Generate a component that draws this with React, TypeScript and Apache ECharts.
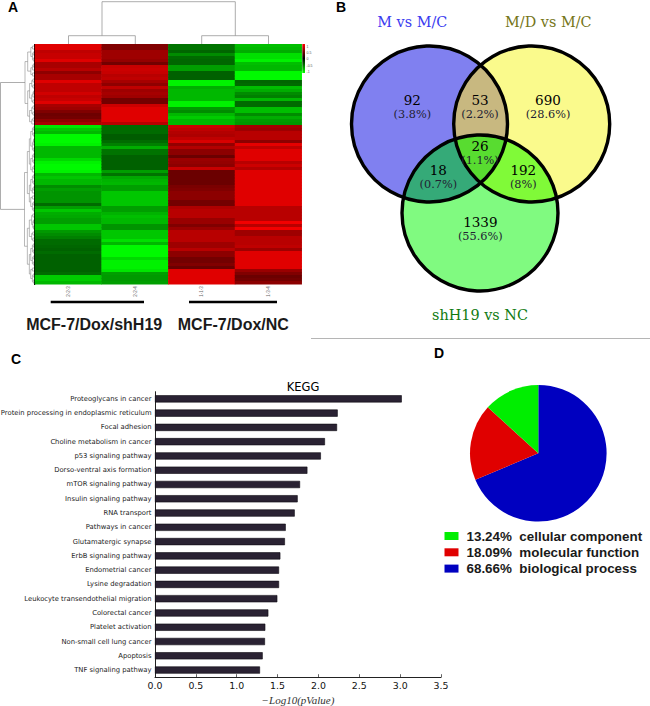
import React, { useEffect, useRef } from "react";
import * as echarts from "echarts";

const sampleLabels = ["2-2-3", "2-2-4", "1-1-3", "1-3-4"];
const col1 = [
  .88,.88,.75,.78,.78,.88,.66,.66,.72,.56,.66,.66,.88,.75,.75,.75,.82,.75,.78,.88,.66,.62,.5,.43,.45,.56,.66,
  -.9,-.78,-.72,-.98,-.98,-.98,-.95,-.72,-.72,-.72,-.72,-.85,-.95,-.98,-.98,-.95,-.72,-.78,-.72,-.72,-.55,-.62,-.58,-.58,-.58,-.58,-.42,
  -.62,-.78,-.68,-.66,-.62,-.62,-.78,-.78,-.6,-.55,-.5,-.42,-.42,-.4,-.38,-.42,-.38,-.38,-.38,-.38,-.38,-.38,-.42,-.8,-.8,-.72,
];
const col2 = [
  .5,.5,.62,.62,.62,.58,.45,.78,.8,.78,.72,.75,.65,.56,.75,.62,.65,.62,.45,.45,.8,.88,.88,.88,.88,.88,.72,
  -.42,-.42,-.42,-.36,-.36,-.42,-.5,-.68,-.45,-.45,-.38,-.38,-.38,-.38,-.38,-.62,-.45,-.66,-.7,-.72,-.62,-.62,-.78,-.78,-.78,-.78,-.78,
  -.62,-.62,-.7,-.75,-.72,-.72,-.58,-.58,-.78,-.78,-.78,-.88,-.72,-.98,-.98,-.98,-.98,-.85,-.95,-.95,-.95,-.9,-.62,-.6,-.6,-.62,
];
const col3 = [
  -.45,-.45,-.4,-.55,-.42,-.4,-.4,-.62,-.62,-.38,-.38,-.38,-.95,-.95,-.68,-.72,-.72,-.72,-.72,-.95,-.95,-.6,-.55,-.72,-.8,-.72,-.72,
  .8,.75,.7,.68,.75,.85,.58,.7,.55,.55,.42,.6,.58,.55,.78,.42,.42,.42,.42,.42,.48,.5,.55,.55,.55,.45,.45,
  .68,.72,.72,.72,.6,.6,.5,.6,.72,.72,.72,.72,.62,.62,.72,.55,.55,.45,.45,.5,.42,.88,.88,.88,.88,.88,
];
const col4 = [
  -.75,-.72,-.68,-.88,-.88,-.95,-.75,-.72,-.72,-.98,-.98,-.98,-.4,-.42,-.75,-.68,-.55,-.5,-.72,-.42,-.42,-.75,-.75,-.55,-.68,-.62,-.6,
  .65,.62,.72,.72,.72,.55,.9,.75,.88,.88,.88,.88,.72,.8,.7,.88,.88,.88,.88,.88,.88,.88,.88,.88,.88,.88,.88,
  .72,.72,.72,.72,.72,.95,.72,.95,.62,.62,.72,.72,.72,.75,.62,.88,.88,.88,.88,.88,.88,.6,.5,.42,.45,.55,
];
const heatColumns = [col1, col2, col3, col4];

const keggTerms = [
  "Proteoglycans in cancer",
  "Protein processing in endoplasmic reticulum",
  "Focal adhesion",
  "Choline metabolism in cancer",
  "p53 signaling pathway",
  "Dorso-ventral axis formation",
  "mTOR signaling pathway",
  "Insulin signaling pathway",
  "RNA transport",
  "Pathways in cancer",
  "Glutamatergic synapse",
  "ErbB signaling pathway",
  "Endometrial cancer",
  "Lysine degradation",
  "Leukocyte transendothelial migration",
  "Colorectal cancer",
  "Platelet activation",
  "Non-small cell lung cancer",
  "Apoptosis",
  "TNF signaling pathway",
];
const keggValues = [3.02,2.236,2.228,2.08,2.03,1.865,1.775,1.746,1.71,1.6,1.59,1.534,1.518,1.518,1.497,1.387,1.35,1.346,1.318,1.285];

const pieNames = ["biological process", "molecular function", "cellular component"];
const pieValues = [68.66, 18.09, 13.24];
const pieColors = ["#0000c0", "#e00000", "#00ee00"];
const legendOrder = ["cellular component", "molecular function", "biological process"];

const vennLabels: [string, string, number, number][] = [
  ["92", "3.8%", 412.3, 107.7],
  ["53", "2.2%", 480, 107.7],
  ["690", "28.6%", 548, 107.7],
  ["26", "1.1%", 480, 153.2],
  ["18", "0.7%", 438.3, 177.2],
  ["192", "8%", 523.3, 177.2],
  ["1339", "55.6%", 480.3, 229.3],
];

const vA = { x: 429.5, y: 124 };
const vB = { x: 531.7, y: 124 };
const vC = { x: 480, y: 213 };
const vR = 78;

function meet(p: any, q: any, side: number) {
  const mx = (p.x + q.x) / 2, my = (p.y + q.y) / 2;
  const dx = q.x - p.x, dy = q.y - p.y, d = Math.hypot(dx, dy);
  const h = Math.sqrt(vR * vR - (d * d) / 4);
  return { x: mx - (side * h * dy) / d, y: my + (side * h * dx) / d };
}
const arc = (p: any) => `A ${vR} ${vR} 0 0 1 ${p.x} ${p.y}`;
function lens(p: any, q: any) {
  const a = meet(p, q, 1), b = meet(p, q, -1);
  return `M ${a.x} ${a.y} ${arc(b)} ${arc(a)} Z`;
}
const abIn = meet(vA, vB, 1); // lower crossing of A and B
const pick = (a: any, b: any, c: any) => (Math.hypot(a.x - c.x, a.y - c.y) < Math.hypot(b.x - c.x, b.y - c.y) ? a : b);
const acInner = pick(meet(vA, vC, 1), meet(vA, vC, -1), vB);
const bcInner = pick(meet(vB, vC, 1), meet(vB, vC, -1), vA);
const triple = `M ${abIn.x} ${abIn.y} ${arc(bcInner)} ${arc(acInner)} ${arc(abIn)} Z`;

echarts.graphic.registerShape("lensAB", echarts.graphic.extendPath(lens(vA, vB), {}));
echarts.graphic.registerShape("lensAC", echarts.graphic.extendPath(lens(vA, vC), {}));
echarts.graphic.registerShape("lensBC", echarts.graphic.extendPath(lens(vB, vC), {}));
echarts.graphic.registerShape("tripleABC", echarts.graphic.extendPath(triple, {}));

const GREY = "#8a8a8a";
const seg = (pts: number[][], stroke = GREY, lineWidth = 0.7) => ({
  type: "polyline",
  silent: true,
  shape: { points: pts },
  style: { stroke, lineWidth, fill: "none" },
});
const label = (text: string, x: number, y: number, font: string, fill = "#000", align = "center") => ({
  type: "text",
  silent: true,
  x,
  y,
  style: { text, font, fill, align, verticalAlign: "middle" },
});
const vennLabel = (n: string, p: string, x: number, y: number) => ({
  type: "text",
  silent: true,
  x,
  y,
  style: {
    text: `{n|${n}}\n{p|(${p})}`,
    align: "center",
    verticalAlign: "middle",
    rich: {
      n: { fontFamily: "DejaVu Serif", fontSize: 13.5, lineHeight: 14.5, fill: "#000", align: "center" },
      p: { fontFamily: "DejaVu Serif", fontSize: 11.3, lineHeight: 14.5, fill: "#222233", align: "center" },
    },
  },
});

const rowH = 240 / 80;
function rowTree(lo: number, hi: number, x: number, out: any[]): number {
  if (hi - lo <= 1) return 44.5 + (lo + 0.5) * rowH;
  const n = hi - lo;
  const split = lo + (n > 5 ? Math.round(n * (n % 3 === 0 ? 0.4 : 0.55)) : Math.ceil(n / 2));
  const nx = x + (34 - x) * (n > 12 ? 0.3 : 0.5);
  const a = rowTree(lo, split, nx, out);
  const b = rowTree(split, hi, nx, out);
  const ax = split - lo <= 1 ? 34 : nx;
  const bx = hi - split <= 1 ? 34 : nx;
  out.push(seg([[ax, a], [x, a], [x, b], [bx, b]], GREY, 0.6));
  return (a + b) / 2;
}

function buildGraphics() {
  const tree: any[] = [];
  const yTop = rowTree(0, 27, 25, tree);
  const yBottom = rowTree(27, 80, 24.5, tree);
  const g: any[] = [
    // top dendrogram
    seg([[102, 35.7], [102, 1.7], [235.3, 1.7], [235.3, 35.7]]),
    seg([[68.5, 44], [68.5, 35.7], [135.3, 35.7], [135.3, 44]]),
    seg([[201.7, 44], [201.7, 35.7], [268.5, 35.7], [268.5, 44]]),
    // left dendrogram
    seg([[25, yTop], [0.5, yTop], [0.5, yBottom], [24.5, yBottom]]),
    ...tree,
    seg([[34.6, 44], [34.6, 285]], "#000", 1.2),
    // colour key
    {
      type: "rect",
      silent: true,
      shape: { x: 302.3, y: 44, width: 2.7, height: 29 },
      style: {
        fill: new echarts.graphic.LinearGradient(0, 0, 0, 1, [
          { offset: 0, color: "#ff0000" },
          { offset: 0.5, color: "#000000" },
          { offset: 1, color: "#00ff00" },
        ]),
      },
    },
    label("1", 306.5, 47, "3.5px 'Liberation Sans'", "#555", "left"),
    label("0.5", 306.5, 53, "3.5px 'Liberation Sans'", "#555", "left"),
    label("0", 306.5, 59, "3.5px 'Liberation Sans'", "#555", "left"),
    label("-0.5", 306.5, 66, "3.5px 'Liberation Sans'", "#555", "left"),
    label("-1", 306.5, 72, "3.5px 'Liberation Sans'", "#555", "left"),
    // group bars
    seg([[50.7, 302], [144, 302]], "#000", 2.6),
    seg([[189, 302], [277, 302]], "#000", 2.6),
    label("MCF-7/Dox/shH19", 94.2, 324, "bold 16px 'Liberation Sans'", "#1a1a1a"),
    label("MCF-7/Dox/NC", 233.3, 324, "bold 16px 'Liberation Sans'", "#1a1a1a"),
    // separator
    seg([[311, 338.5], [650, 338.5]], "#b5b5b5", 1),
    // panel letters
    label("A", 13, 7, "bold 14px 'Liberation Sans'"),
    label("B", 341, 6.5, "bold 14px 'Liberation Sans'"),
    label("C", 16, 359, "bold 14px 'Liberation Sans'"),
    label("D", 439, 352.5, "bold 14px 'Liberation Sans'"),
    // venn
    { type: "circle", silent: true, shape: { cx: vA.x, cy: vA.y, r: vR }, style: { fill: "#8080f0" } },
    { type: "circle", silent: true, shape: { cx: vB.x, cy: vB.y, r: vR }, style: { fill: "#fafa8c" } },
    { type: "circle", silent: true, shape: { cx: vC.x, cy: vC.y, r: vR }, style: { fill: "#80fa80" } },
    { type: "lensAB", silent: true, style: { fill: "#c8b880" } },
    { type: "lensAC", silent: true, style: { fill: "#35aa78" } },
    { type: "lensBC", silent: true, style: { fill: "#80fa38" } },
    { type: "tripleABC", silent: true, style: { fill: "#58dc30" } },
    ...[vA, vB, vC].map((c) => ({
      type: "circle",
      silent: true,
      shape: { cx: c.x, cy: c.y, r: vR },
      style: { fill: "none", stroke: "#000", lineWidth: 3.4 },
    })),
    label("M vs M/C", 412.3, 21.7, "14.4px 'DejaVu Serif'", "#3a3af0"),
    label("M/D vs M/C", 548.3, 21.7, "14.4px 'DejaVu Serif'", "#757518"),
    label("shH19 vs NC", 480, 315, "14.4px 'DejaVu Serif'", "#107a10"),
    ...vennLabels.map(([n, p, x, y]) => vennLabel(n, p, x, y)),
  ];
  return g;
}

export default function App() {
  const ref = useRef<HTMLDivElement>(null);
  useEffect(() => {
    document.body.style.margin = "0";
    const chart = echarts.init(ref.current!, undefined, { renderer: "svg" });
    const heat: number[][] = [];
    heatColumns.forEach((col, c) => col.forEach((v, r) => heat.push([c, r, v])));
    chart.setOption({
      animation: false,
      backgroundColor: "#fff",
      title: {
        text: "KEGG",
        left: 298,
        top: 376,
        textAlign: "center",
        textStyle: { fontFamily: "DejaVu Sans", fontSize: 11.5, fontWeight: "normal", color: "#000" },
      },
      legend: {
        show: true,
        orient: "vertical",
        left: 444.5,
        top: 529.5,
        padding: 0,
        itemWidth: 14,
        itemHeight: 8,
        itemGap: 3.3,
        data: legendOrder.map((name) => ({ name, icon: "rect" })),
        formatter: (name: string) => `${pieValues[pieNames.indexOf(name)].toFixed(2)}%  ${name}`,
        textStyle: { fontFamily: "Liberation Sans", fontSize: 13.4, fontWeight: "bold", color: "#1a1a1a", padding: [0, 0, 0, 3] },
        selectedMode: false,
      },
      visualMap: {
        show: false,
        seriesIndex: 0,
        min: -1,
        max: 1,
        inRange: { color: ["#00ff00", "#000000", "#ff0000"] },
      },
      grid: [
        { left: 35, top: 44.25, width: 266.7, height: 240, outerBoundsMode: "none" },
        { left: 155, top: 391.7, width: 286, height: 285.5, outerBoundsMode: "none" },
      ],
      xAxis: [
        {
          gridIndex: 0,
          type: "category",
          data: sampleLabels,
          axisLine: { show: false },
          axisTick: { show: false },
          axisLabel: { rotate: 90, fontSize: 4.5, color: "#666", margin: 2, fontFamily: "Liberation Sans" },
        },
        {
          gridIndex: 1,
          type: "value",
          min: 0,
          max: 3.5,
          interval: 0.5,
          splitLine: { show: false },
          axisLine: { show: true, onZero: false, lineStyle: { color: "#222", width: 1 } },
          axisTick: { show: true, inside: true, length: 3, lineStyle: { color: "#222", width: 0.7 } },
          axisLabel: {
            fontFamily: "DejaVu Sans",
            fontSize: 9.4,
            color: "#111",
            margin: 4,
            formatter: (v: number) => v.toFixed(1),
          },
          name: "\u2212Log10(pValue)",
          nameLocation: "middle",
          nameGap: 17,
          nameTextStyle: { fontFamily: "Liberation Serif", fontStyle: "italic", fontSize: 11, color: "#333" },
        },
      ],
      yAxis: [
        {
          gridIndex: 0,
          type: "category",
          inverse: true,
          data: col1.map((_, i) => i),
          show: false,
        },
        {
          gridIndex: 1,
          type: "category",
          inverse: true,
          data: keggTerms,
          axisLine: { lineStyle: { color: "#222", width: 1 } },
          axisTick: { show: false },
          axisLabel: { fontFamily: "DejaVu Sans", fontSize: 6.8, color: "#222", margin: 3.5, interval: 0 },
        },
      ],
      series: [
        {
          type: "heatmap",
          xAxisIndex: 0,
          yAxisIndex: 0,
          data: heat,
          silent: true,
          itemStyle: { borderWidth: 0 },
          emphasis: { disabled: true },
        },
        {
          type: "bar",
          xAxisIndex: 1,
          yAxisIndex: 1,
          data: keggValues,
          barWidth: 7.2,
          silent: true,
          itemStyle: { color: "#2a2233", borderColor: "#0d0a12", borderWidth: 0.6 },
        },
        {
          type: "pie",
          center: [538.3, 453.3],
          radius: [0, 68.3],
          startAngle: 90,
          silent: true,
          label: { show: false },
          labelLine: { show: false },
          data: pieNames.map((name, i) => ({ name, value: pieValues[i], itemStyle: { color: pieColors[i] } })),
        },
      ],
      graphic: { elements: buildGraphics() },
    });
    return () => chart.dispose();
  }, []);
  return <div ref={ref} style={{ position: "absolute", left: 0, top: 0, width: 650, height: 706 }} />;
}
